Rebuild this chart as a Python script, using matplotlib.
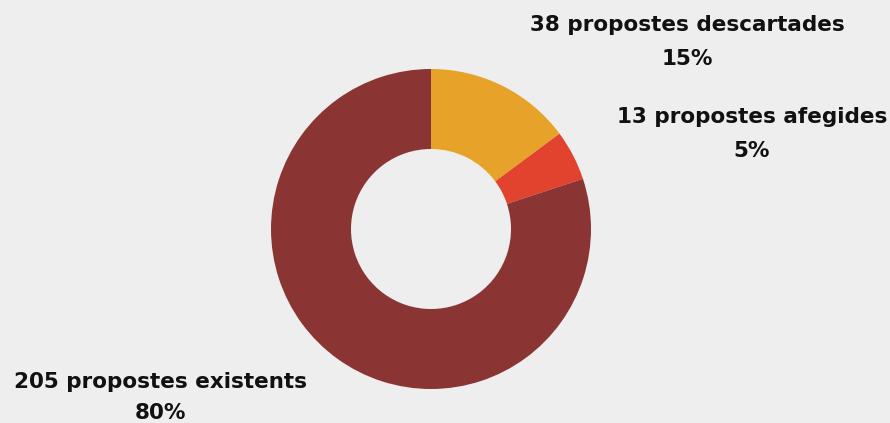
import matplotlib
matplotlib.use("Agg")
import matplotlib.pyplot as plt

labels = ["propostes descartades", "propostes afegides", "propostes existents"]
counts = [38, 13, 205]
percents = [15, 5, 80]
colors = ["#E6A229", "#E2432E", "#8B3434"]

W, H = 890, 423
fig = plt.figure(figsize=(W / 100, H / 100), dpi=100)
fig.patch.set_facecolor("#EEEEEE")

# donut: centre (431, 229) px, outer radius 160 px
ax = fig.add_axes([271 / W, (H - 389) / H, 320 / W, 320 / H])
ax.set_facecolor("#EEEEEE")
ax.pie(counts, colors=colors, startangle=90, counterclock=False, radius=1,
       wedgeprops=dict(width=0.5, edgecolor="none"))
ax.set_xlim(-1, 1)
ax.set_ylim(-1, 1)
ax.axis("off")

# label positions in pixels (centre x, y of first line, y of second line)
label_pos = [(687, 25, 59), (752, 117, 151), (160, 382, 413)]
for c, lab, p, (x, y1, y2) in zip(counts, labels, percents, label_pos):
    fig.text(x / W, 1 - y1 / H, f"{c} {lab}", ha="center", va="center",
             fontsize=15.5, fontweight="bold", family="DejaVu Sans", color="#111111")
    fig.text(x / W, 1 - y2 / H, f"{p}%", ha="center", va="center",
             fontsize=15.5, fontweight="bold", family="DejaVu Sans", color="#111111")

fig.savefig("out.png", dpi=100, facecolor=fig.get_facecolor())
